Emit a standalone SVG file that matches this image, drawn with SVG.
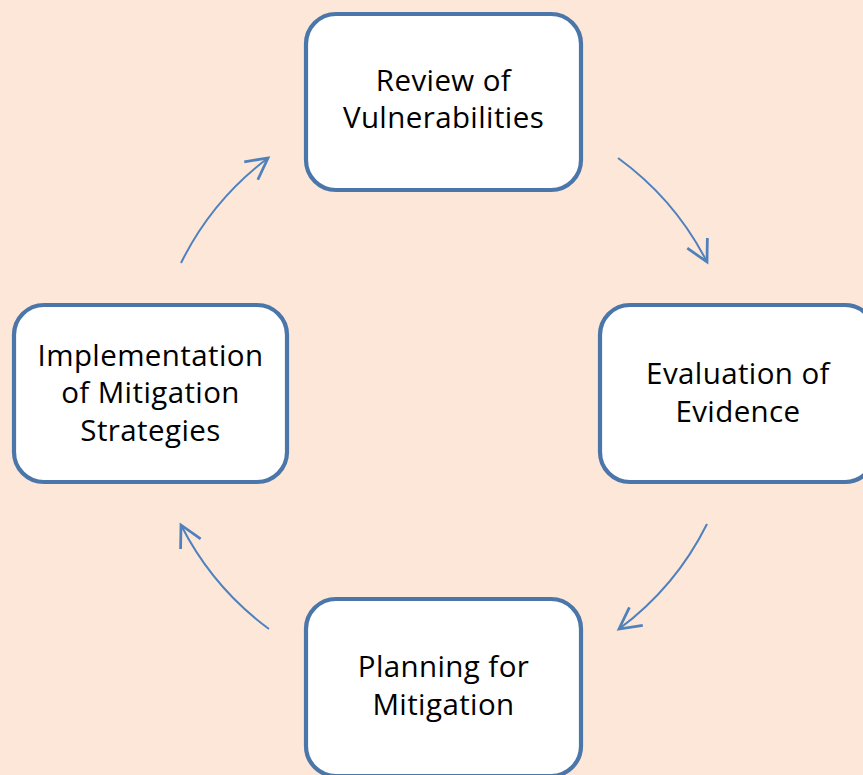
<svg xmlns="http://www.w3.org/2000/svg" width="863" height="775" viewBox="0 0 863 775">
  <style>
    .box { fill: #ffffff; stroke: #4a76aa; stroke-width: 4.2; }
    .label { font-family: "Open Sans", "Liberation Sans", sans-serif; font-size: 29.5px; letter-spacing: 0.4px; fill: #000000; text-anchor: middle; }
    .flow { fill: none; stroke: #4f81bd; stroke-width: 2; }
  </style>
  <defs>
    <marker id="chevron" markerUnits="userSpaceOnUse" markerWidth="30" markerHeight="30" viewBox="-20 -12 24 24" refX="0" refY="0" orient="auto">
      <path d="M-17,-9 L0,0 L-17,9" fill="none" stroke="#4f81bd" stroke-width="2.2" stroke-linejoin="miter"/>
    </marker>
  </defs>

  <rect x="0" y="0" width="863" height="775" fill="#fce7d9"/>

  <!-- cycle connectors, clockwise -->
  <g id="connectors">
    <path class="flow" d="M618,158 A293,293 0 0 1 707,262" marker-end="url(#chevron)"/>
    <path class="flow" d="M707,524 A293,293 0 0 1 619,629" marker-end="url(#chevron)"/>
    <path class="flow" d="M269,629 A295,295 0 0 1 181,525" marker-end="url(#chevron)"/>
    <path class="flow" d="M181,263 A295,295 0 0 1 268,158" marker-end="url(#chevron)"/>
  </g>

  <g id="review">
    <rect class="box" x="306" y="14" width="275" height="176" rx="30"/>
    <text class="label" x="443.5" y="91">Review of</text>
    <text class="label" x="443.5" y="128">Vulnerabilities</text>
  </g>

  <g id="evaluation">
    <rect class="box" x="600" y="305" width="275" height="177" rx="30"/>
    <text class="label" x="738" y="384">Evaluation of</text>
    <text class="label" x="738" y="422">Evidence</text>
  </g>

  <g id="planning">
    <rect class="box" x="306" y="599" width="275" height="177" rx="30"/>
    <text class="label" x="443.5" y="677">Planning for</text>
    <text class="label" x="443.5" y="715">Mitigation</text>
  </g>

  <g id="implementation">
    <rect class="box" x="14" y="305" width="273" height="177" rx="30"/>
    <text class="label" x="150.5" y="366">Implementation</text>
    <text class="label" x="150.5" y="403">of Mitigation</text>
    <text class="label" x="150.5" y="441">Strategies</text>
  </g>
</svg>
